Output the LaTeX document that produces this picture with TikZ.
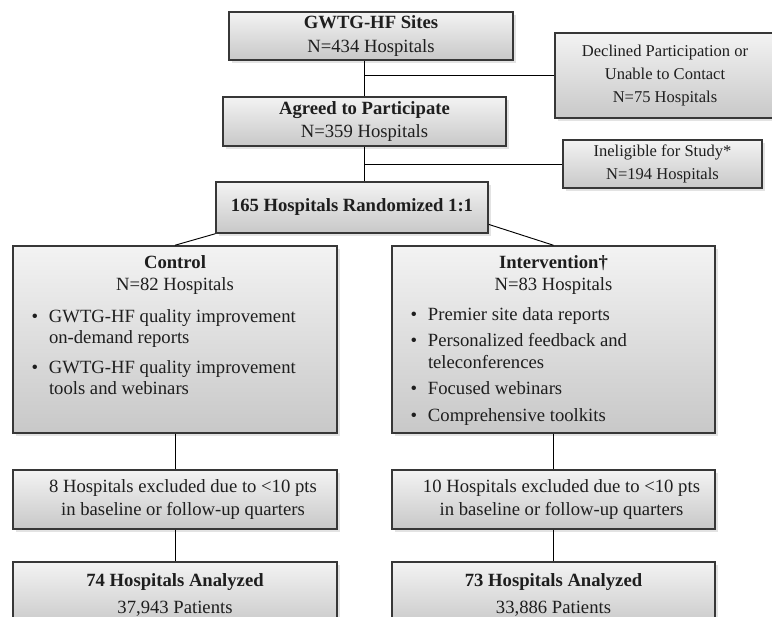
\documentclass[tikz,border=0pt]{standalone}
\usepackage{fontspec}
\setmainfont{Liberation Serif}
\usetikzlibrary{shadows, calc}
\definecolor{BoxTop}{RGB}{243,243,243}
\definecolor{BoxBottom}{RGB}{200,200,200}
\definecolor{BoxEdge}{RGB}{55,55,55}
\definecolor{InkGray}{RGB}{30,30,30}

% bullet line inside the arm boxes
\newcommand{\flowitem}[2][4pt]{\par\vspace{#1}\hangindent=27pt\hangafter=1\noindent
  \hspace*{14pt}\makebox[13pt][l]{\textbullet}#2\par}

\begin{document}
\begin{tikzpicture}[x=0.75pt, y=-0.75pt,
  basebox/.style={draw=BoxEdge, line width=1.1pt, top color=BoxTop, bottom color=BoxBottom,
    drop shadow={shadow xshift=2pt, shadow yshift=-2pt, opacity=0.22},
    inner sep=0pt, text=InkGray},
  flowbox/.style={basebox, align=center, font=\fontsize{14}{17.5}\selectfont},
  sidebox/.style={basebox, align=center, font=\fontsize{12.4}{17}\selectfont},
  link/.style={draw=black, line width=0.7pt}]
\useasboundingbox (0,0) rectangle (772,617);
\clip (0,0) rectangle (772,617);

% Enrollment
\node[flowbox, minimum width=213pt, minimum height=36pt] (sites) at (371,36)
  {\textbf{GWTG-HF Sites}\\N=434 Hospitals};
\node[sidebox, minimum width=165pt, minimum height=63.75pt] (declined) at (665,75.5)
  {Declined Participation or\\Unable to Contact\\N=75 Hospitals};
\node[flowbox, minimum width=212.25pt, minimum height=36.75pt] (agreed) at (364.5,121.5)
  {\textbf{Agreed to Participate}\\N=359 Hospitals};
\node[sidebox, minimum width=149.25pt, minimum height=36pt] (inelig) at (662.5,164)
  {Ineligible for Study*\\N=194 Hospitals};
\node[flowbox, minimum width=204pt, minimum height=38.25pt] (rand) at (352,207.5)
  {\textbf{165 Hospitals Randomized 1:1}};

% Arms
\node[basebox] (ctrl) at (175,339.5)
  {\parbox[c][140.25pt][t]{243pt}{\fontsize{14}{16}\selectfont\vspace*{7.5pt}%
   \centering\textbf{Control}\\N=82 Hospitals\par\raggedright
   \flowitem[8pt]{GWTG-HF quality improvement\newline on-demand reports}
   \flowitem[6.5pt]{GWTG-HF quality improvement\newline tools and webinars}}};
\node[basebox] (intv) at (553.5,339.5)
  {\parbox[c][140.25pt][t]{242.25pt}{\fontsize{14}{16}\selectfont\vspace*{7.5pt}%
   \centering\textbf{Intervention\textdagger}\\N=83 Hospitals\par\raggedright
   \flowitem[7pt]{Premier site data reports}
   \flowitem[3.5pt]{Personalized feedback and\newline teleconferences}
   \flowitem{Focused webinars}
   \flowitem{Comprehensive toolkits}}};

% Exclusions and analysis
\node[flowbox, minimum width=243pt, minimum height=44.25pt] (excl1) at (175,499.5)
  {\hspace*{12pt}8 Hospitals excluded due to <10 pts\\\hspace*{12pt}in baseline or follow-up quarters};
\node[flowbox, minimum width=242.25pt, minimum height=44.25pt] (excl2) at (553.5,499.5)
  {\hspace*{12pt}10 Hospitals excluded due to <10 pts\\\hspace*{12pt}in baseline or follow-up quarters};
\node[flowbox, minimum width=243pt, minimum height=49.5pt] (anal1) at (175,595)
  {\textbf{74 Hospitals Analyzed}\\[3pt]37,943 Patients};
\node[flowbox, minimum width=242.25pt, minimum height=49.5pt] (anal2) at (553.5,595)
  {\textbf{73 Hospitals Analyzed}\\[3pt]33,886 Patients};

% Connectors
\coordinate (j1) at (agreed.north |- declined.west);
\coordinate (j2) at (agreed.south |- inelig.west);
\draw[link] (agreed.north |- sites.south) -- (agreed.north);
\draw[link] (j1) -- (declined.west);
\draw[link] (agreed.south) -- (agreed.south |- rand.north);
\draw[link] (j2) -- (inelig.west);
\draw[link] (rand.south west) -- (ctrl.north);
\draw[link] ([yshift=7pt]rand.south east) -- (intv.north);
\draw[link] (ctrl.south) -- (excl1.north);
\draw[link] (intv.south) -- (excl2.north);
\draw[link] (excl1.south) -- (anal1.north);
\draw[link] (excl2.south) -- (anal2.north);

\end{tikzpicture}
\end{document}
